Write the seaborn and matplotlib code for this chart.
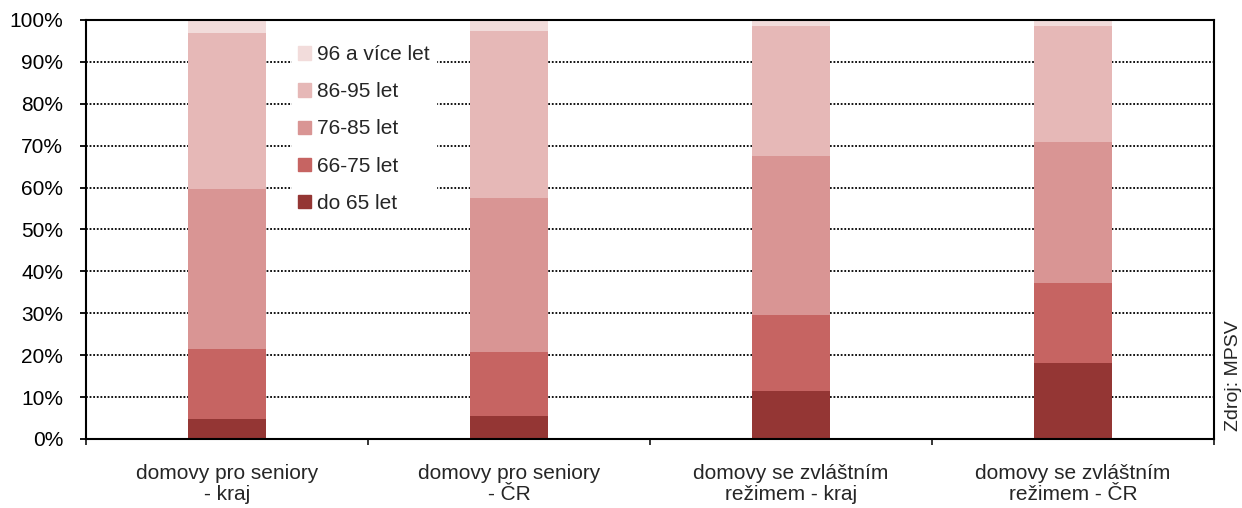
import numpy as np
import pandas as pd
import matplotlib
matplotlib.use("Agg")
import matplotlib.pyplot as plt
import matplotlib.patches as mpatches
import seaborn as sns

categories = ["domovy pro seniory\n- kraj", "domovy pro seniory\n- ČR",
              "domovy se zvláštním\nrežimem - kraj", "domovy se zvláštním\nrežimem - ČR"]
age_groups = ["do 65 let", "66-75 let", "76-85 let", "86-95 let", "96 a více let"]
colors = ["#943634", "#C66462", "#D99594", "#E6B8B7", "#F2DCDB"]

# shares in % per age group, one value per category
do_65 = [4.8, 5.5, 11.5, 18.1]
age_66_75 = [16.7, 15.3, 18.1, 19.1]
age_76_85 = [38.2, 36.8, 37.9, 33.7]
age_86_95 = [37.1, 39.7, 31.1, 27.7]
age_96_plus = [3.2, 2.7, 1.4, 1.4]

series = [do_65, age_66_75, age_76_85, age_86_95, age_96_plus]
df = pd.DataFrame(np.array(series).T, columns=age_groups)
df.insert(0, "kategorie", categories)
cum = df[age_groups].cumsum(axis=1)
# normalise top to 100 %
cum = cum.div(cum[age_groups[-1]], axis=0) * 100

sns.set_style("white")
plt.rcParams["font.family"] = ["Liberation Sans", "DejaVu Sans"]

fig = plt.figure(figsize=(12.42, 5.08), dpi=100)
ax = fig.add_axes([86 / 1242, 1 - 439 / 508, (1214 - 86) / 1242, (439 - 20) / 508])

# draw cumulative bars from the top segment down
for grp, col in zip(reversed(age_groups), reversed(colors)):
    sns.barplot(x=df["kategorie"], y=cum[grp], color=col, width=0.28,
                saturation=1, errorbar=None, linewidth=0, ax=ax, zorder=2)

ax.set_ylim(0, 100)
ax.set_xlim(-0.5, 3.5)
ax.set_yticks(np.arange(0, 101, 10))
ax.set_yticklabels([f"{v}%" for v in range(0, 101, 10)])
ax.yaxis.grid(True, linestyle=(0, (1, 1)), color="black", linewidth=1.3, zorder=0)
ax.set_axisbelow(True)
ax.set_xlabel("")
ax.set_ylabel("")

ax.tick_params(axis="y", which="major", length=4.5, width=1.3, direction="out",
               left=True, pad=12, labelsize=15, colors="black")
ax.tick_params(axis="x", which="major", length=0, pad=18, labelsize=15)
ax.set_xticks(np.arange(-0.5, 3.6, 1.0), minor=True)
ax.tick_params(axis="x", which="minor", length=4.5, width=1.3, direction="out", bottom=True)
for lbl in ax.get_xticklabels():
    lbl.set_linespacing(1.15)

for side in ["left", "bottom", "top", "right"]:
    ax.spines[side].set_visible(True)
    ax.spines[side].set_color("black")
    ax.spines[side].set_linewidth(1.5)

handles = [mpatches.Patch(color=c, label=g) for g, c in zip(age_groups, colors)]
leg = fig.legend(handles=handles[::-1], loc="upper left",
                 bbox_to_anchor=(292 / 1242, 1 - 39 / 508),
                 frameon=True, fancybox=False, framealpha=1, facecolor="white",
                 edgecolor="white", fontsize=15, handlelength=0.6, handleheight=0.6,
                 handletextpad=0.3, labelspacing=0.87, borderpad=0.3, borderaxespad=0)

fig.text(1233 / 1242, 1 - 376 / 508, "Zdroj: MPSV", rotation=90, fontsize=14,
         ha="center", va="center")

fig.savefig("out.png", dpi=100)
